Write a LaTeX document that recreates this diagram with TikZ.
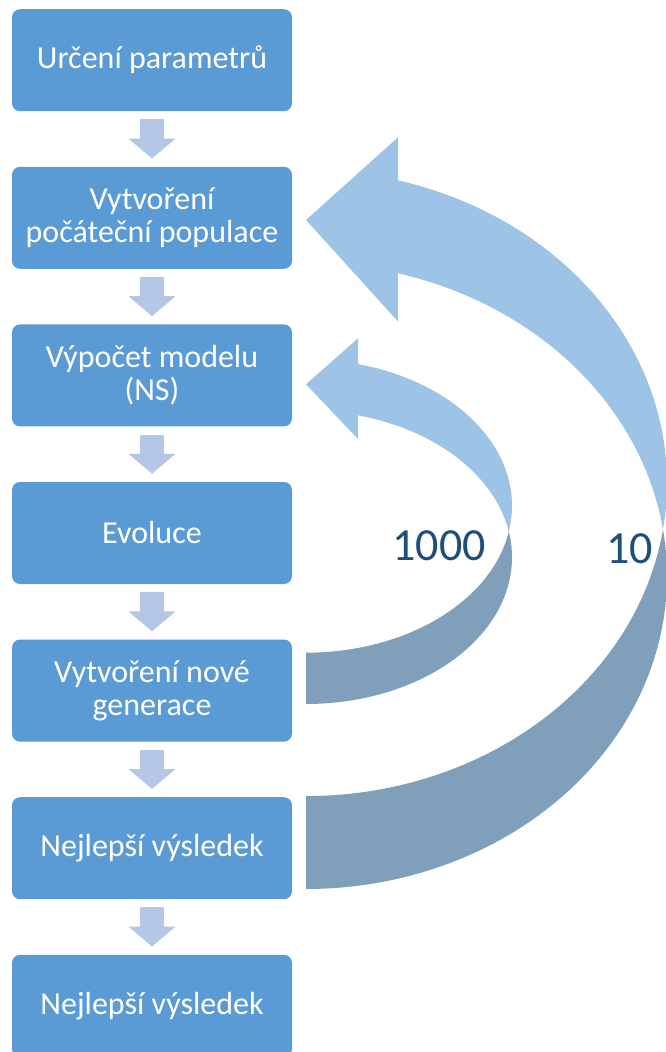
\documentclass[tikz,border=0pt]{standalone}
\usepackage{fontspec}
\setmainfont{Carlito}
\usetikzlibrary{arrows.meta}
\usetikzlibrary{calc}

\definecolor{boxblue}{HTML}{5B9BD5}
\definecolor{stepblue}{HTML}{B4C7E7}
\definecolor{loopfront}{HTML}{9DC3E6}
\definecolor{loopback}{RGB}{127,159,186}
\definecolor{labelblue}{HTML}{1F4E79}

\begin{document}
\begin{tikzpicture}[x=1pt, y=1pt,
  stepbox/.style={fill=boxblue, rounded corners=8pt, inner sep=0pt,
    minimum width=280pt, minimum height=102pt, text=white, align=center,
    font=\fontsize{32}{33}\selectfont},
  downarrow/.style={draw=stepblue, line width=24pt,
    -{Triangle[width=46pt,length=20pt]}},
  countlabel/.style={text=labelblue, inner sep=0pt, anchor=base,
    font=\fontsize{46}{50}\selectfont}]
\clip (0,0) rectangle (666,-1052);

\node[stepbox](urc) at (152, -60.2) {Určení parametrů};
\node[stepbox](init) at (152, -217.8) {Vytvoření\\počáteční populace};
\node[stepbox](model) at (152, -375.4) {Výpočet modelu\\(NS)};
\node[stepbox](evo) at (152, -533) {Evoluce};
\node[stepbox](gen) at (152, -690.6) {Vytvoření nové\\generace};
\node[stepbox](best) at (152, -848.2) {Nejlepší výsledek};
\node[stepbox](result) at (152, -1005.8) {Nejlepší výsledek};

\foreach \a/\b in {urc/init, init/model, model/evo, evo/gen, gen/best, best/result}
  \draw[downarrow] ([yshift=-8pt]\a.south) -- ([yshift=8pt]\b.north);

% outer loop (10): back face, then front face with head
\coordinate (c10) at (306, -483);
\fill[loopback] ($(c10)+(0,-406)$) arc[start angle=-90, end angle=8.54, x radius=361, y radius=313]
  arc[start angle=-8.54, end angle=-90, x radius=361, y radius=313] -- cycle;
\fill[loopfront] ($(c10)+(75.24:361 and 313)$) arc[start angle=75.24, end angle=-8.54, x radius=361, y radius=313]
  arc[start angle=8.54, end angle=75.24, x radius=361, y radius=313]
  -- (398, -321.5) -- (306, -220) -- (398, -137.3) -- cycle;

% inner loop (1000)
\coordinate (c1000) at (306, -506);
\fill[loopback] ($(c1000)+(0,-198)$) arc[start angle=-90, end angle=10.07, x radius=206, y radius=146.7]
  arc[start angle=-10.07, end angle=-90, x radius=206, y radius=146.7] -- cycle;
\fill[loopfront] ($(c1000)+(75.38:206 and 146.7)$) arc[start angle=75.38, end angle=-10.07, x radius=206, y radius=146.7]
  arc[start angle=10.07, end angle=75.38, x radius=206, y radius=146.7]
  -- (358, -439) -- (306, -384.3) -- (358, -338.3) -- cycle;

\node[countlabel](n1000) at (439, -560) {1000};
\node[countlabel](n10) at (629.5, -563) {10};
\end{tikzpicture}
\end{document}
